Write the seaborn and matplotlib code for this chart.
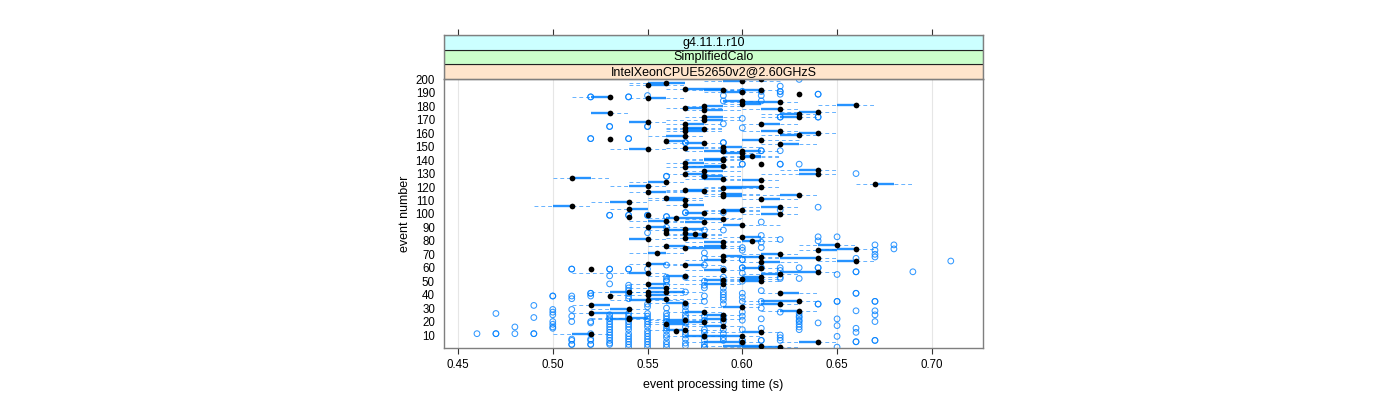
import pandas as pd
import numpy as np
import matplotlib
matplotlib.use("Agg")
import matplotlib.pyplot as plt
import seaborn as sns

strip_labels = ["IntelXeonCPUE52650v2@2.60GHzS", "SimplifiedCalo", "g4.11.1.r10"]
strip_colors = ["#FFE5CC", "#CCFFCC", "#CCFFFF"]

# one entry per event row
events = [200, 199, 197, 196, 193, 192, 192, 191, 189, 187,
          186, 184, 183, 182, 181, 180, 179, 178, 177, 176,
          175, 174, 172, 172, 170, 168, 167, 167, 164, 163,
          162, 162, 160, 159, 158, 156, 155, 154, 153, 152,
          150, 149, 148, 147, 147, 145, 143, 142, 141, 140,
          138, 137, 136, 135, 133, 132, 130, 130, 128, 127,
          126, 125, 124, 122, 121, 120, 119, 118, 117, 116,
          115, 114, 113, 112, 111, 110, 109, 107, 106, 105,
          104, 103, 102, 101, 100, 99, 98, 97, 96, 95,
          94, 92, 90, 89, 88, 86, 86, 85, 84, 83,
          82, 81, 80, 79, 77, 76, 76, 75, 74, 73,
          71, 70, 69, 68, 67, 66, 65, 64, 63, 62,
          60, 59, 58, 57, 56, 55, 54, 53, 52, 51,
          50, 48, 48, 45, 42, 42, 42, 41, 40, 39,
          37, 36, 35, 34, 33, 32, 31, 29, 28, 27,
          26, 25, 23, 22, 22, 21, 20, 18, 17, 14,
          13, 12, 11, 9, 9, 5, 5, 2, 1]
medians = [.61, .60, .56, .55, .57, .59, .61, .60, .63, .53,
           .55, .60, .62, .60, .66, .58, .57, .62, .58, .64,
           .53, .63, .63, .58, .58, .55, .57, .61, .57, .58,
           .57, .62, .64, .63, .57, .53, .61, .56, .58, .62,
           .59, .57, .55, .59, .60, .60, .605, .60, .59, .59,
           .57, .61, .59, .57, .64, .58, .64, .57, .58, .51,
           .59, .61, .56, .67, .55, .61, .59, .57, .58, .55,
           .59, .63, .59, .56, .61, .57, .54, .57, .51, .62,
           .54, .60, .59, .58, .62, .55, .54, .565, .59, .56,
           .58, .60, .55, .57, .56, .56, .57, .575, .58, .60,
           .57, .55, .605, .59, .65, .56, .59, .57, .66, .64,
           .555, .62, .59, .61, .64, .59, .66, .61, .55, .57,
           .61, .52, .59, .64, .55, .62, .57, .61, .60, .59,
           .61, .59, .55, .56, .54, .56, .55, .62, .55, .53,
           .56, .55, .63, .57, .62, .52, .60, .54, .63, .58,
           .52, .59, .54, .54, .59, .57, .58, .56, .59, .57,
           .565, .61, .52, .60, .58, .60, .64, .61, .62]
q1s = [.59, .59, .55, .55, .57, .58, .60, .59, .63, .52,
       .55, .59, .60, .60, .65, .58, .57, .61, .58, .63,
       .52, .62, .62, .58, .58, .54, .57, .61, .57, .57,
       .57, .61, .63, .62, .56, .53, .60, .56, .57, .62,
       .59, .57, .54, .58, .60, .59, .60, .60, .58, .58,
       .57, .61, .58, .57, .63, .58, .63, .57, .58, .51,
       .58, .60, .55, .67, .54, .59, .59, .57, .57, .55,
       .59, .62, .59, .56, .61, .56, .53, .57, .50, .61,
       .54, .59, .59, .57, .61, .55, .54, .56, .58, .55,
       .57, .59, .55, .57, .56, .56, .57, .57, .57, .60,
       .57, .54, .60, .58, .64, .56, .58, .57, .65, .64,
       .55, .61, .59, .60, .62, .58, .65, .61, .55, .57,
       .60, .52, .58, .62, .54, .61, .56, .60, .60, .58,
       .60, .58, .55, .55, .53, .56, .55, .62, .55, .53,
       .55, .54, .61, .56, .61, .52, .59, .53, .62, .57,
       .52, .58, .54, .53, .58, .56, .56, .56, .58, .56,
       .565, .60, .51, .58, .57, .58, .63, .59, .60]
q3s = [.61, .60, .57, .56, .59, .59, .61, .60, .63, .53,
       .56, .60, .62, .61, .66, .59, .58, .62, .59, .64,
       .53, .63, .63, .59, .59, .55, .58, .62, .58, .58,
       .58, .62, .64, .63, .57, .53, .61, .57, .58, .63,
       .60, .58, .55, .59, .61, .60, .61, .61, .59, .59,
       .58, .61, .59, .59, .64, .59, .64, .58, .59, .52,
       .59, .61, .56, .68, .55, .61, .60, .58, .58, .56,
       .60, .63, .60, .57, .62, .57, .54, .58, .51, .62,
       .55, .60, .60, .58, .62, .55, .54, .58, .59, .56,
       .58, .60, .56, .58, .57, .56, .57, .58, .58, .61,
       .58, .55, .61, .59, .65, .57, .59, .59, .66, .65,
       .56, .62, .60, .61, .64, .59, .66, .62, .56, .58,
       .61, .52, .59, .64, .55, .62, .57, .61, .61, .59,
       .61, .59, .56, .56, .54, .57, .56, .63, .56, .53,
       .56, .55, .63, .57, .62, .53, .60, .54, .63, .58,
       .54, .59, .55, .54, .59, .57, .58, .57, .59, .57,
       .565, .61, .52, .60, .58, .60, .64, .61, .62]
lows = [.58, .58, .54, .54, .56, .57, .59, .58, .63, .51,
        .54, .59, .59, .59, .64, .57, .56, .60, .57, .62,
        .52, .61, .61, .57, .56, .54, .56, .60, .56, .56,
        .56, .60, .62, .61, .55, .53, .60, .56, .56, .61,
        .58, .56, .53, .57, .59, .59, .59, .59, .57, .57,
        .56, .61, .57, .56, .62, .57, .61, .56, .57, .50,
        .57, .59, .54, .66, .53, .58, .58, .56, .56, .54,
        .58, .60, .58, .55, .60, .55, .52, .56, .49, .60,
        .53, .58, .58, .57, .60, .55, .54, .55, .57, .54,
        .56, .59, .54, .56, .55, .56, .57, .56, .56, .59,
        .56, .54, .59, .57, .63, .55, .57, .56, .64, .63,
        .54, .60, .58, .59, .61, .57, .64, .60, .54, .56,
        .60, .52, .57, .61, .51, .60, .55, .59, .59, .57,
        .59, .57, .54, .54, .52, .55, .54, .61, .53, .53,
        .55, .53, .60, .55, .60, .51, .58, .52, .61, .56,
        .51, .57, .52, .52, .57, .55, .55, .55, .57, .55,
        .565, .58, .50, .57, .56, .57, .62, .58, .59]
highs = [.63, .62, .57, .57, .60, .60, .62, .61, .63, .53,
         .57, .61, .63, .61, .67, .60, .59, .63, .60, .65,
         .54, .64, .64, .60, .60, .56, .59, .63, .59, .59,
         .59, .63, .65, .64, .58, .53, .63, .57, .59, .64,
         .61, .59, .56, .60, .62, .61, .62, .62, .60, .60,
         .59, .61, .60, .60, .65, .60, .65, .59, .60, .53,
         .60, .62, .57, .69, .56, .62, .61, .59, .59, .57,
         .61, .64, .60, .58, .63, .58, .55, .58, .52, .63,
         .55, .61, .61, .59, .63, .55, .54, .60, .60, .57,
         .59, .62, .57, .59, .58, .56, .57, .59, .59, .62,
         .59, .56, .62, .60, .66, .58, .60, .60, .67, .65,
         .57, .63, .61, .62, .65, .60, .67, .63, .57, .59,
         .62, .52, .60, .65, .56, .63, .59, .62, .62, .60,
         .62, .60, .57, .57, .55, .58, .57, .64, .57, .53,
         .58, .57, .64, .58, .63, .53, .61, .55, .64, .59,
         .55, .60, .55, .56, .60, .58, .59, .58, .60, .59,
         .565, .62, .53, .61, .59, .61, .65, .62, .63]

# hollow points, listed by time; a repeated event is a point drawn twice
out_times = [.46, .47, .48, .49, .50, .51, .52, .53, .54, .55,
             .56, .57, .58, .59, .60, .61, .62, .63, .64, .65,
             .66, .67, .68, .69, .71]
out_events = [
    [11],
    [26, 11, 11],
    [16, 11],
    [32, 23, 11, 11],
    [39, 39, 29, 27, 25, 20, 18, 16, 15],
    [59, 59, 39, 37, 29, 24, 20, 7, 6, 3, 3],
    [187, 187, 156, 156, 41, 41, 39, 20, 19, 11, 7, 6, 3, 3],
    [165, 165, 99, 99, 59, 59, 54, 48, 25, 23, 22, 20, 18, 16, 14, 12, 10, 8, 6, 4, 3],
    [187, 187, 156, 156, 99, 99, 59, 59, 47, 45, 43, 41, 39, 37, 26, 24, 22, 20, 18, 16, 14, 11, 9, 7, 5, 3, 1],
    [188, 165, 165, 99, 99, 86, 59, 33, 31, 26, 24, 22, 20, 18, 16, 13, 11, 9, 7, 5, 3, 1],
    [128, 128, 98, 98, 90, 62, 53, 51, 50, 47, 30, 26, 24, 22, 20, 17, 15, 13, 10, 8, 5, 3, 1],
    [153, 153, 101, 101, 53, 42, 33, 31, 28, 25, 23, 19, 16, 12, 10, 7, 4, 2],
    [128, 128, 88, 71, 67, 62, 50, 47, 45, 39, 35, 24, 21, 14, 12, 9, 6, 3, 1, 1],
    [188, 184, 167, 153, 153, 147, 147, 101, 88, 59, 53, 49, 45, 42, 40, 38, 36, 33, 24, 22, 20, 14, 11, 8, 6],
    [191, 191, 171, 164, 137, 137, 75, 73, 66, 66, 60, 60, 56, 50, 41, 38, 35, 27, 24, 21, 14, 6, 6, 4],
    [191, 188, 184, 147, 147, 94, 84, 79, 75, 60, 60, 43, 35, 30, 22, 15, 6, 6],
    [195, 191, 191, 189, 172, 172, 147, 137, 137, 103, 81, 60, 58, 53, 52, 27, 10, 8, 6],
    [200, 137, 60, 52, 26, 24, 23, 21, 20, 18, 16, 14],
    [189, 189, 172, 172, 105, 83, 80, 60, 60, 33, 33, 19],
    [83, 55, 35, 35, 22, 17, 9, 1],
    [130, 67, 57, 57, 41, 41, 28, 15, 12, 5, 5],
    [77, 73, 70, 68, 35, 35, 28, 25, 20, 6, 6],
    [77, 74],
    [57],
    [65],
]

tick_x = [.45, .50, .55, .60, .65, .70]
tick_y = list(range(10, 201, 10))

df = pd.DataFrame({"event": events, "median": medians, "q1": q1s, "q3": q3s,
                   "low": lows, "high": highs})
out = pd.DataFrame({"time": np.repeat(out_times, [len(e) for e in out_events]),
                    "event": np.concatenate(out_events)})

sns.set_style("white")
plt.rcParams["font.family"] = ["Liberation Sans", "DejaVu Sans"]
blue = "#0080FF"
edge = "#7F7F7F"

fig = plt.figure(figsize=(14, 4), dpi=100)
ax = fig.add_axes([444 / 1400, 1 - 348 / 400, 539 / 1400, 269 / 400])
ax.grid(True, axis="x", color="#E6E6E6", lw=0.8)
ax.set_axisbelow(True)

ax.hlines(df["event"], df["low"], df["q1"], color=blue, lw=0.7, ls=(0, (4, 3)), alpha=0.6)
ax.hlines(df["event"], df["q3"], df["high"], color=blue, lw=0.7, ls=(0, (4, 3)), alpha=0.6)
ax.hlines(df["event"], df["q1"], df["q3"], color=blue, lw=1.7, alpha=0.85)

sns.scatterplot(data=out, x="time", y="event", ax=ax, marker="o", s=17, facecolors="none",
                edgecolor=blue, linewidth=0.75, alpha=0.8, legend=False)
sns.scatterplot(data=df, x="median", y="event", ax=ax, marker="o", s=17, color="black",
                linewidth=0, legend=False, zorder=4)

ax.set_xlim(.4426, .727)
ax.set_ylim(.35, 200.3)
ax.set_xticks(tick_x)
ax.set_xticklabels(["%.2f" % t for t in tick_x], fontsize=8.3, color="black")
ax.set_yticks(tick_y)
ax.set_yticklabels([str(t) for t in tick_y], fontsize=8.3, color="black")
ax.tick_params(axis="x", bottom=True, length=4, width=0.8, color="#333333", pad=4)
ax.tick_params(axis="y", left=False, pad=3)
ax.set_xlabel("event processing time (s)", fontsize=9, labelpad=6, color="black")
ax.set_ylabel("event number", fontsize=9, labelpad=3, color="black")
for s in ax.spines.values():
    s.set_color(edge)
    s.set_linewidth(1.0)

# strips sit above the panel and carry the top ticks
sx = fig.add_axes([444 / 1400, 1 - 79 / 400, 539 / 1400, 44 / 400])
sx.set_xlim(ax.get_xlim())
sx.set_ylim(0, 3)
for i, (lab, col) in enumerate(zip(strip_labels, strip_colors)):
    sx.barh(i + .5, .727 - .4426, left=.4426, height=1, color=col, edgecolor="#222222", linewidth=0.8)
    sx.text((.727 + .4426) / 2, i + .47, lab, ha="center", va="center", fontsize=9, color="black")
sx.set_xticks(tick_x)
sx.set_xticklabels([])
sx.set_yticks([])
sx.tick_params(axis="x", top=True, bottom=False, labeltop=False, labelbottom=False,
               length=4, width=0.8, color="#333333")
for s in sx.spines.values():
    s.set_color(edge)
    s.set_linewidth(1.0)

assert len({len(c) for c in (events, medians, q1s, q3s, lows, highs)}) == 1
fig.savefig("out.png", dpi=100)
